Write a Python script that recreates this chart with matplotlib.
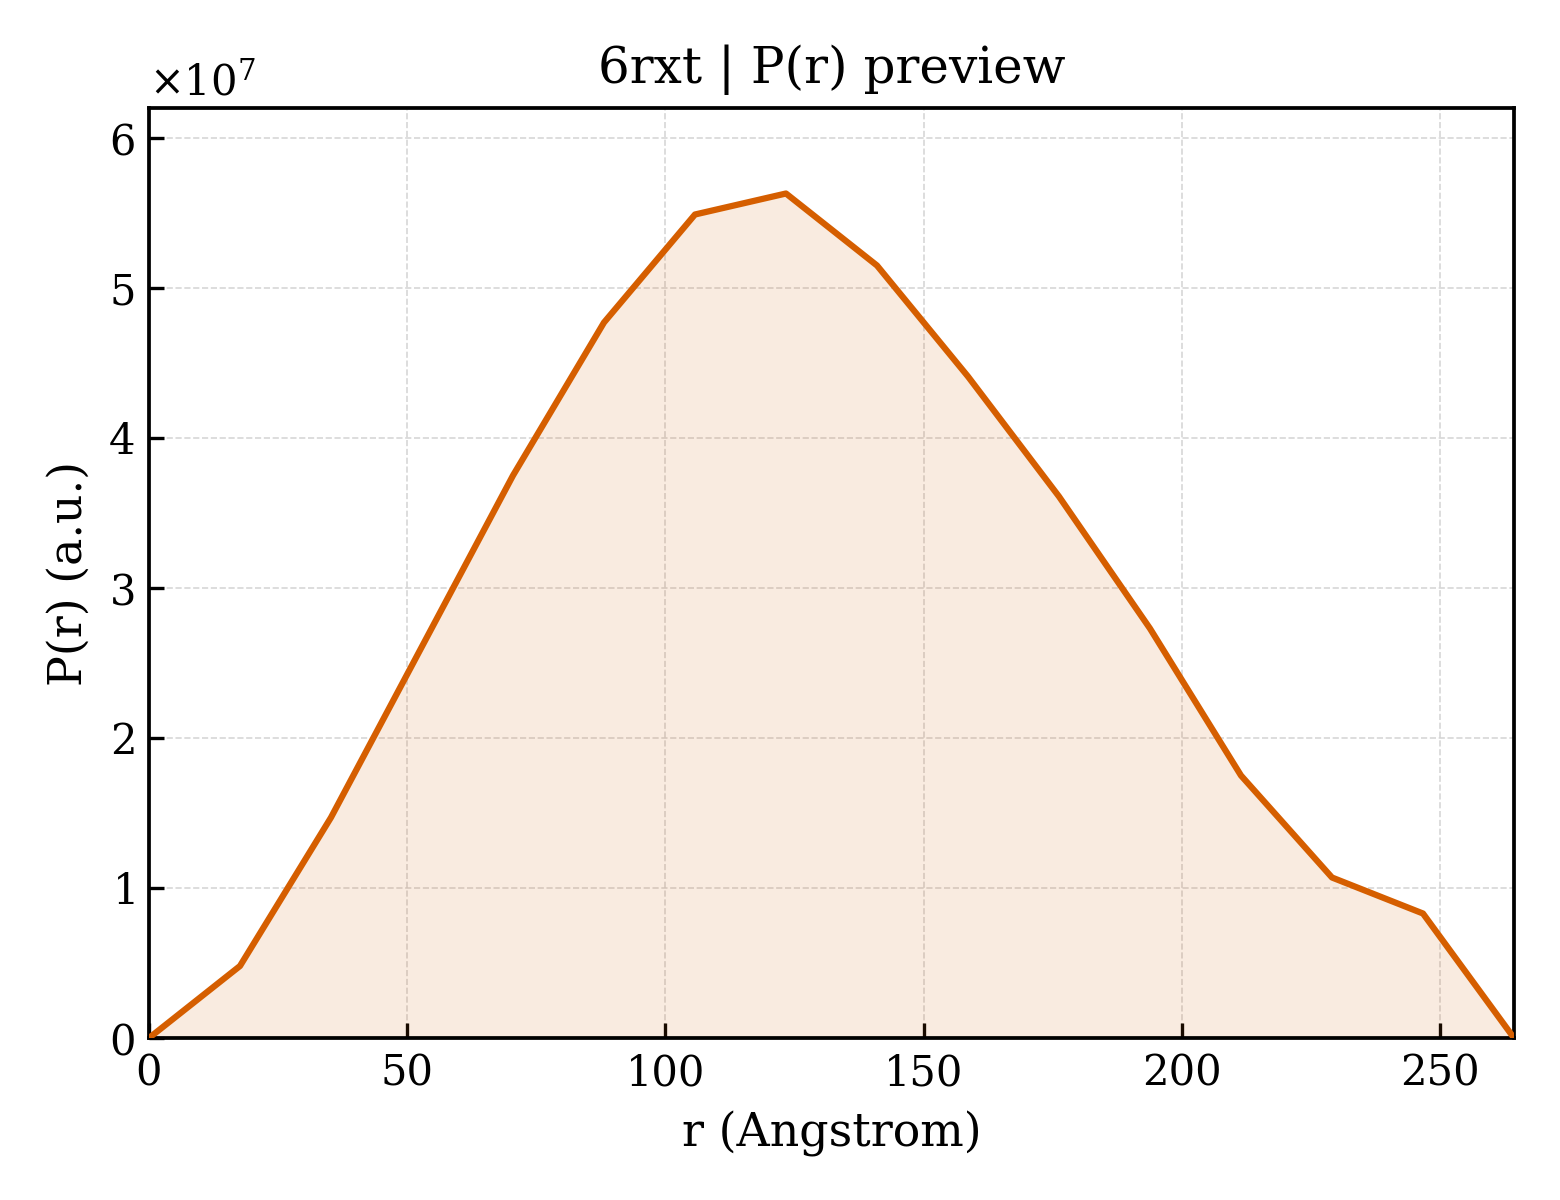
import numpy as np
import matplotlib
matplotlib.use('Agg')
import matplotlib.pyplot as plt

plt.rcParams['font.family'] = ['DejaVu Serif']
plt.rcParams['mathtext.fontset'] = 'dejavuserif'

# P(r) samples (r in Angstrom, P in a.u.)
r = [0.0, 17.62, 35.24, 52.86, 70.48, 88.1, 105.72, 123.34, 140.96,
     158.58, 176.2, 193.82, 211.44, 229.06, 246.68, 264.3]
pr = [0.0, 0.48e7, 1.47e7, 2.61e7, 3.75e7, 4.77e7, 5.49e7, 5.63e7, 5.15e7,
      4.41e7, 3.61e7, 2.73e7, 1.75e7, 1.07e7, 0.83e7, 0.0]

color = '#D55E00'

if __name__ == '__main__':
    fig, ax = plt.subplots(figsize=(5.2, 4), dpi=300)
    fig.subplots_adjust(left=0.0955, right=0.9705, top=0.91, bottom=0.135)

    ax.plot(r, pr, color=color, lw=1.5, zorder=3)
    ax.fill_between(r, pr, 0, color=color, alpha=0.12, lw=0, zorder=2)

    ax.set_xlim(0, max(r))
    ax.set_ylim(0, 6.2e7)

    ax.grid(True, ls='--', lw=0.4, color='#cccccc', alpha=0.8)
    ax.tick_params(direction='in', labelsize=10)
    ax.ticklabel_format(axis='y', style='sci', scilimits=(0, 0), useMathText=True)
    ax.yaxis.get_offset_text().set_fontsize(10)
    for s in ax.spines.values():
        s.set_linewidth(0.9)

    ax.set_title('6rxt | P(r) preview', fontsize=12)
    ax.set_xlabel('r (Angstrom)', fontsize=11)
    ax.set_ylabel('P(r) (a.u.)', fontsize=11)

    plt.savefig('out.png')
